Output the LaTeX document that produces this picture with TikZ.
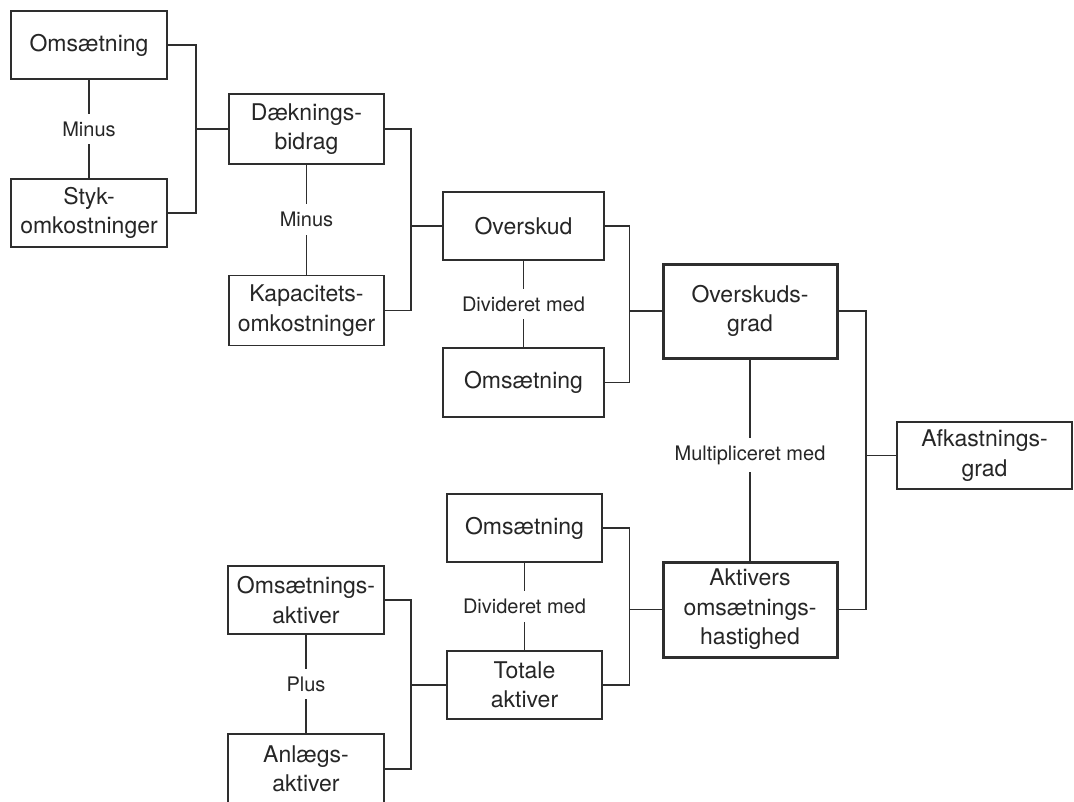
\documentclass[tikz,border=0pt]{standalone}
\usepackage{fontspec}
\setmainfont{TeX Gyre Heros}
\newcommand{\bxfont}{\fontsize{23}{29.5}\selectfont}
\newcommand{\lbfont}{\fontsize{20}{24}\selectfont}
\definecolor{lineC}{HTML}{2E2E2E}
\definecolor{textC}{HTML}{262626}
\tikzset{
  box/.style={draw=lineC, line width=1.6pt, fill=white, text=textC,
    align=center, font=\bxfont, inner sep=0pt},
  thickbox/.style={box, line width=3pt},
  lab/.style={fill=white, text=textC, font=\lbfont, inner xsep=3pt, inner ysep=8pt},
  conn/.style={draw=lineC, line width=1.5pt},
}
\begin{document}
\begin{tikzpicture}[x=1pt, y=-1pt]
\useasboundingbox (0,0) rectangle (1074,801);

% boxes
\node[box, minimum width=156, minimum height=68] (om1)    at (89,45)      {Omsætning};
\node[box, minimum width=156, minimum height=68] (styk)   at (89,213)     {Styk-\\omkostninger};
\node[box, minimum width=155, minimum height=70] (dbid)   at (306.5,129)  {Dæknings-\\bidrag};
\node[box, minimum width=155, minimum height=70] (kap)    at (306.5,310.5){Kapacitets-\\omkostninger};
\node[box, minimum width=161, minimum height=68] (oversk) at (523.5,226)  {Overskud};
\node[box, minimum width=161, minimum height=69] (om2)    at (523.5,382.5){Omsætning};
\node[thickbox, minimum width=174, minimum height=94] (ograd) at (750,311) {Overskuds-\\grad};
\node[box, minimum width=175, minimum height=67] (afk)    at (984.5,455.5){Afkastnings-\\grad};
\node[box, minimum width=155, minimum height=68] (om3)    at (524.5,528)  {Omsætning};
\node[box, minimum width=155, minimum height=68] (tot)    at (524.5,685)  {Totale\\aktiver};
\node[thickbox, minimum width=174, minimum height=95] (akt) at (750,609.5) {Aktivers\\omsætnings-\\hastighed};
\node[box, minimum width=156, minimum height=68] (omakt)  at (306,600)    {Omsætnings-\\aktiver};
\node[box, minimum width=156, minimum height=70] (anl)    at (306,769)    {Anlægs-\\aktiver};

% operations between paired boxes
\draw[conn] (om1) -- (styk) node[lab, midway] {Minus};
\draw[conn] (dbid) -- (kap) node[lab, midway] {Minus};
\draw[conn] (oversk) -- (om2) node[lab, midway] {Divideret med};
\draw[conn] (ograd) -- (akt) node[lab, pos=0.475] {Multipliceret med};
\draw[conn] (om3) -- (tot) node[lab, midway] {Divideret med};
\draw[conn] (omakt) -- (anl) node[lab, midway] {Plus};

% bracket junctions
\path (dbid.west)  ++(-32,0) coordinate (j1);
\path (oversk.west)++(-31,0) coordinate (j2);
\path (ograd.west) ++(-32,0) coordinate (j3);
\path (afk.west)   ++(-30,0) coordinate (j4);
\path (akt.west)   ++(-32,0) coordinate (j5);
\path (tot.west)   ++(-35,0) coordinate (j6);

% brackets joining each pair into its result
\draw[conn] (om1.east) -| (j1) |- (styk.east);
\draw[conn] (j1) -- (dbid.west);
\draw[conn] (dbid.east) -| (j2) |- (kap.east);
\draw[conn] (j2) -- (oversk.west);
\draw[conn] (oversk.east) -| (j3) |- (om2.east);
\draw[conn] (j3) -- (ograd.west);
\draw[conn] (ograd.east) -| (j4) |- (akt.east);
\draw[conn] (j4) -- (afk.west);
\draw[conn] (om3.east) -| (j5) |- (tot.east);
\draw[conn] (j5) -- (akt.west);
\draw[conn] (omakt.east) -| (j6) |- (anl.east);
\draw[conn] (j6) -- (tot.west);
\end{tikzpicture}
\end{document}
